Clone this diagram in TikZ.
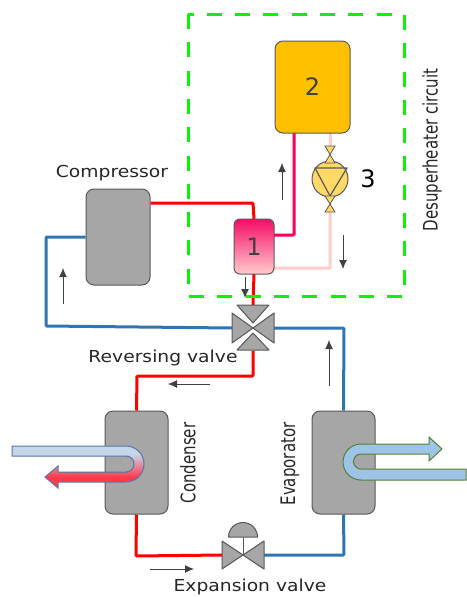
\documentclass[tikz,border=0pt]{standalone}
\usepackage{fontspec}
\setmainfont{DejaVu Sans}
\usetikzlibrary{arrows.meta}
\definecolor{pipered}{HTML}{FF0000}
\definecolor{pipeblue}{HTML}{2E75B6}
\definecolor{pipemag}{HTML}{F5005F}
\definecolor{pipepale}{HTML}{FFCCCC}
\definecolor{boxgray}{HTML}{A6A6A6}
\definecolor{edgegray}{HTML}{595959}
\definecolor{flowgray}{HTML}{404040}
\definecolor{framegreen}{HTML}{0CF00C}
\definecolor{tankfill}{HTML}{FFC000}
\definecolor{pumpfill}{HTML}{FFD966}
\definecolor{condedge}{HTML}{5478AA}
\definecolor{evapedge}{HTML}{548235}
\definecolor{evapfill}{HTML}{9DC3E6}
\definecolor{condcold}{HTML}{C5D5EA}
\definecolor{condhot}{HTML}{FF3A4C}
\pgfdeclareverticalshading{condshade}{100bp}{color(0bp)=(condhot); color(38bp)=(condhot); color(65bp)=(condcold); color(100bp)=(condcold)}
\tikzset{
  hxbox/.style={draw=edgegray,line width=1pt,fill=boxgray,rounded corners=8pt,minimum width=63pt,minimum height=103pt,inner sep=0pt},
  ghostbox/.style={minimum width=#1,inner sep=0pt,outer sep=0pt},
  pipe/.style={line width=3pt,rounded corners=1pt},
  valvetri/.style={draw=edgegray,line width=1pt,fill=boxgray,line join=round},
  pumpbit/.style={draw=edgegray,line width=0.8pt,fill=pumpfill},
  flow/.style={draw=flowgray,line width=0.9pt,-{Latex[length=9pt,width=8pt]}},
  lblh/.style={text=black!85,inner sep=0pt,font=\fontsize{16.5}{18}\selectfont,xscale=1.135},
  lblv/.style={text=black!85,inner sep=0pt,font=\fontsize{20}{22}\selectfont,rotate=90,xscale=.75},
  digit/.style={inner sep=0pt,font=\fontsize{24}{28}\selectfont},
}
\begin{document}
\begin{tikzpicture}[x=1pt,y=-1pt]
\useasboundingbox (0,0) rectangle (466,597);
% named shapes (placed first so pipes can refer to them)
\node[hxbox,minimum height=96pt,minimum width=64pt] (comp) at (118,237) {};
\node[hxbox] (cond) at (136.5,462.5) {};
\node[hxbox] (evap) at (343.5,462.5) {};
\node[ghostbox=40pt,minimum height=55pt] (hx) at (254,246.5) {};
\node[ghostbox=75pt,minimum height=92pt] (tank) at (312.5,87) {};
\node[ghostbox=42pt,minimum height=45pt] (rv) at (253,328) {};
\node[ghostbox=42pt,minimum height=28pt] (ev) at (243,555) {};
\node[ghostbox=11pt,minimum height=66pt] (pump) at (330,179) {};
% pipes
\draw[pipe,pipered] (comp.east |- 0,203) -- (253,203) -- (hx.north);
\draw[pipe,pipered] (hx.south) -- (rv.north);
\draw[pipe,pipered] (rv.south) -- (253,376) -- (137,376) -- (cond.north);
\draw[pipe,pipered] (cond.south) -- (136,556) -- (ev.west);
\draw[pipe,pipeblue] (ev.east) -- (344,555) -- (evap.south);
\draw[pipe,pipeblue] (evap.north) -- (344,328) -- (rv.east);
\draw[pipe,pipeblue] (rv.west) -- (46,326) -- (46,237) -- (comp.west);
\draw[pipe,pipemag] (tank.south -| 294,0) -- (294,235) -- (hx.east |- 0,235);
\draw[pipe,pipepale] (tank.south -| 330,0) -- (pump.north);
\draw[pipe,pipepale] (pump.south) -- (330,268) -- (hx.east |- 0,268);
% frame
\draw[framegreen,line width=3pt,dash pattern=on 15pt off 13.3pt] (188,14) rectangle (404,296);
% tank, exchanger
\draw[draw=edgegray,line width=1pt,fill=tankfill,rounded corners=8pt] (tank.north west) rectangle (tank.south east);
\draw[draw=edgegray,line width=1pt,rounded corners=6pt,top color=pipemag!95!white,bottom color=pipepale] (hx.north west) rectangle (hx.south east);
\node[digit,text=black!75] (n2) at (tank.center) {2};
\node[digit,text=black!75] (n1) at (hx.center) {1};
% pump
\draw[pumpbit,line width=1pt] (pump.center) circle (18);
\draw[edgegray,line width=1.2pt,line join=round] (315,168) -- (347,168) -- (330,196) -- cycle;
\draw[pumpbit] (325,146) -- (335,146) -- (325,163) -- (335,163) -- cycle;
\draw[pumpbit] (325,196) -- (335,196) -- (325,212) -- (335,212) -- cycle;
\node[digit] (n3) at (368,179) {3};
% reversing valve
\draw[valvetri] (rv.west |- 0,313) -- (rv.center) -- (rv.west |- 0,343) -- cycle;
\draw[valvetri] (rv.east |- 0,313) -- (rv.center) -- (rv.east |- 0,343) -- cycle;
\draw[valvetri] (237,305) -- (269,305) -- (253,323) -- cycle;
\draw[valvetri] (237,350) -- (269,350) -- (253,333) -- cycle;
% expansion valve
\draw[valvetri] (ev.north west) -- (ev.center) -- (ev.south west) -- cycle;
\draw[valvetri] (ev.north east) -- (ev.center) -- (ev.south east) -- cycle;
\draw[edgegray,line width=1pt] (ev.center) -- (243,537);
\draw[valvetri] (228.5,537) arc[start angle=180,end angle=360,radius=14.5] -- cycle;
% condenser water pipe
\path[draw=condedge,line width=1pt,shading=condshade]
  (12,446) -- (126,446) arc[start angle=-90,end angle=90,radius=18] -- (58,482) -- (58,488) -- (45,477) -- (58,466) -- (58,472)
  -- (126,472) arc[start angle=90,end angle=-90,radius=8] -- (12,456) -- cycle;
% evaporator water pipe
\path[draw=evapedge,line width=1pt,fill=evapfill]
  (466,480) -- (361,480) arc[start angle=90,end angle=270,radius=18] -- (429,444) -- (429,437) -- (442,449) -- (429,461) -- (429,454)
  -- (361,454) arc[start angle=270,end angle=90,radius=7.5] -- (466,469) -- cycle;
% flow arrows
\coordinate (fa1s) at (282,200); \coordinate (fa1e) at (282,163);
\coordinate (fa2s) at (343,235); \coordinate (fa2e) at (343,269);
\coordinate (fa3s) at (245,277); \coordinate (fa3e) at (245,298);
\coordinate (fa4s) at (63,304);  \coordinate (fa4e) at (63,268);
\coordinate (fa5s) at (210,384); \coordinate (fa5e) at (168,384);
\coordinate (fa6s) at (329,386); \coordinate (fa6e) at (329,340);
\coordinate (fa7s) at (150,569); \coordinate (fa7e) at (194,569);
\foreach \k in {1,...,7} \draw[flow] (fa\k s) -- (fa\k e);
% labels
\node[lblh] (tcomp) at (112,173) {Compressor};
\node[lblh] (trv) at (163,358) {Reversing valve};
\node[lblh] (tev) at (250,587) {Expansion valve};
\node[lblv] (tcond) at (188,463) {Condenser};
\node[lblv] (tevap) at (290,464) {Evaporator};
\node[lblv] (tdes) at (432,150) {Desuperheater circuit};
\end{tikzpicture}
\end{document}
